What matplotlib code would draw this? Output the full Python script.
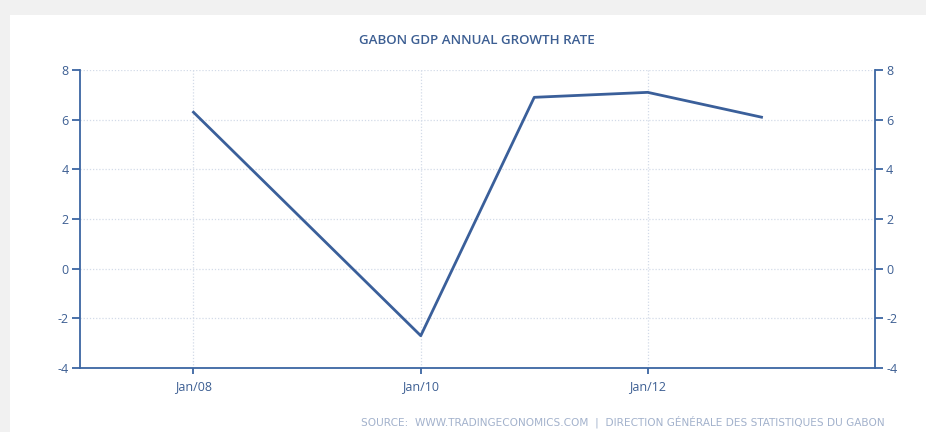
import datetime as dt
import matplotlib
matplotlib.use("Agg")
import matplotlib.pyplot as plt
from matplotlib.patches import Rectangle

# data
years = [2008, 2010, 2011, 2012, 2013]
growth = [6.3, -2.7, 6.9, 7.1, 6.1]
tick_years = [2008, 2010, 2012]
tick_labels = ['Jan/08', 'Jan/10', 'Jan/12']
y_ticks = [-4, -2, 0, 2, 4, 6, 8]

dates = [dt.date(y, 1, 1) for y in years]
tick_dates = [dt.date(y, 1, 1) for y in tick_years]

line_col = '#3a5f9a'
axis_col = '#3c66a3'
text_col = '#3d5f93'
grid_col = '#d3dbe8'

plt.rcParams['font.family'] = ['Open Sans', 'DejaVu Sans']
plt.rcParams['axes.unicode_minus'] = False

fig = plt.figure(figsize=(9.26, 4.32), dpi=100)
fig.patch.set_facecolor('#f1f1f1')
# white card behind everything
card = Rectangle((10 / 926, 0), 1, 1 - 15 / 432, transform=fig.transFigure,
                 facecolor='white', edgecolor='none', zorder=-5)
fig.add_artist(card)

ax = fig.add_axes([80 / 926, 1 - 368 / 432, (875 - 80) / 926, (368 - 70) / 432])
ax.set_facecolor('none')
ax.plot(dates, growth, color=line_col, lw=2.0, zorder=3)

ax.set_xlim(dt.date(2007, 1, 1), dt.date(2014, 1, 1))
ax.set_ylim(-4, 8)
ax.set_yticks(y_ticks)
ax.set_xticks(tick_dates)
ax.set_xticklabels(tick_labels)

ax.grid(True, color=grid_col, ls=(0, (1, 1.5)), lw=0.9)
ax.spines['top'].set_visible(False)
for s in ['left', 'right', 'bottom']:
    ax.spines[s].set_color(axis_col)
    ax.spines[s].set_linewidth(1.3)

ax.tick_params(axis='y', which='both', left=True, right=True, labelleft=True, labelright=True,
               direction='out', length=6, width=1.3, color=axis_col, labelcolor=text_col,
               labelsize=9, pad=2)
ax.tick_params(axis='x', direction='out', length=4, width=1.3, color=axis_col,
               labelcolor=text_col, labelsize=9, pad=5)

fig.text(477 / 926, 1 - 40 / 432, 'GABON GDP ANNUAL GROWTH RATE', ha='center', va='center',
         color=text_col, fontsize=9.6, fontweight='semibold')
fig.text(885 / 926, 1 - 422 / 432,
         'SOURCE:  WWW.TRADINGECONOMICS.COM  |  DIRECTION GÉNÉRALE DES STATISTIQUES DU GABON',
         ha='right', va='center', color='#a3b2cc', fontsize=7.6, family='DejaVu Sans')

fig.savefig('out.png', dpi=100, facecolor=fig.get_facecolor())
